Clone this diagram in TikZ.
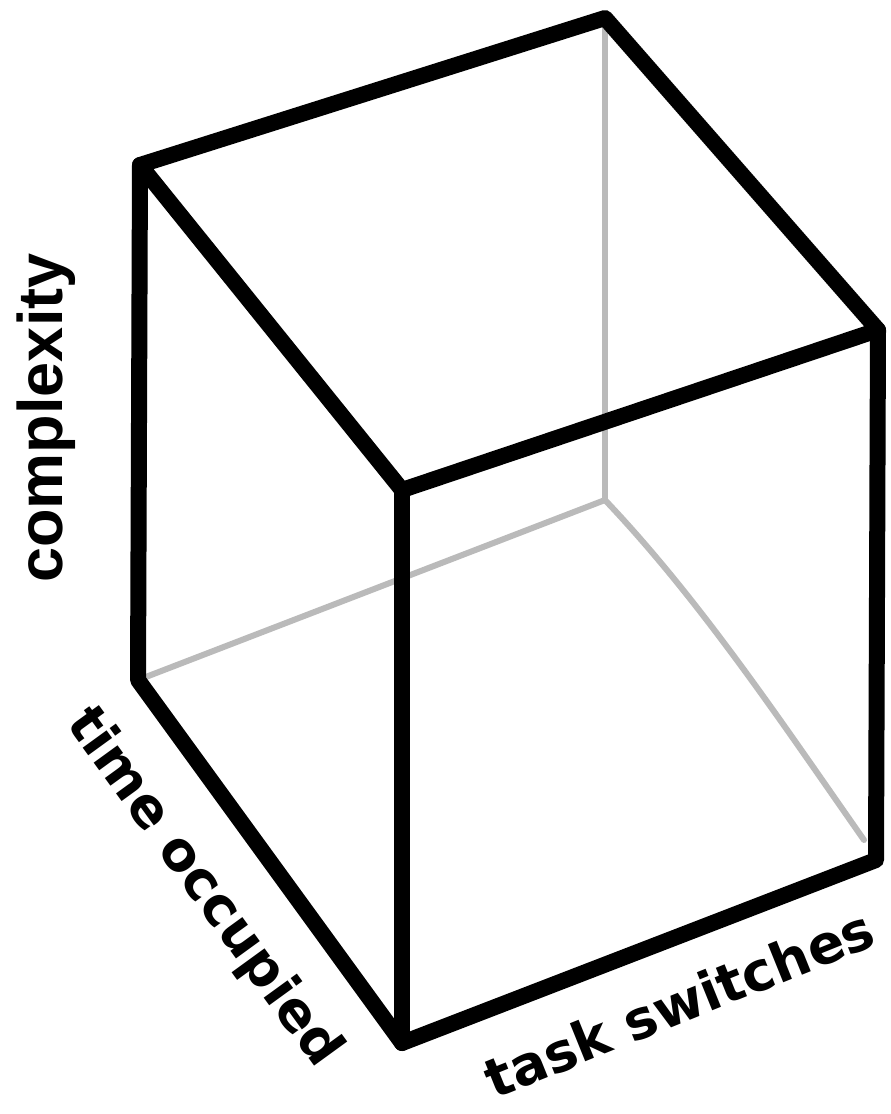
\documentclass[tikz,border=0pt]{standalone}
\usepackage{fontspec}
\setmainfont{DejaVu Sans}
\newfontfamily\boldlabel{Liberation Sans}
\begin{document}
\begin{tikzpicture}[x=1pt,y=-1pt,
  edge/.style={line width=16pt,line cap=round,line join=round,black},
  hidden/.style={line width=6pt,line cap=round,color=black!27},
  axlabel/.style={font=\bfseries\fontsize{54}{56}\selectfont,inner sep=0pt}]
\useasboundingbox[fill=white] (0,0) rectangle (891,1114);
% vertices
\coordinate (A) at (140,165);
\coordinate (B) at (605,18);
\coordinate (C) at (878,330);
\coordinate (D) at (402,490);
\coordinate (F) at (138,680);
\coordinate (E) at (402,1043);
\coordinate (G) at (876,860);
\coordinate (H) at (605,500);
\coordinate (Gh) at (864,840);
% hidden edges
\draw[hidden] (H) -- (B);
\draw[hidden] (H) -- (F);
\draw[hidden] (H) .. controls (700,600) and (780,720) .. (Gh);
% visible edges
\draw[edge] (A) -- (B) -- (C) -- (D) -- cycle;
\draw[edge] (A) -- (F) -- (E) -- (G) -- (C);
\draw[edge] (D) -- (E);
% labels
\node[font=\boldlabel\bfseries\fontsize{63}{65}\selectfont,inner sep=0pt,rotate=90] (cx) at (46,418) {complexity};
\node[axlabel,rotate=-54] (to) at (203,888) {time occupied};
\node[axlabel,rotate=22] (ts) at (679,1003) {task switches};
\end{tikzpicture}
\end{document}
